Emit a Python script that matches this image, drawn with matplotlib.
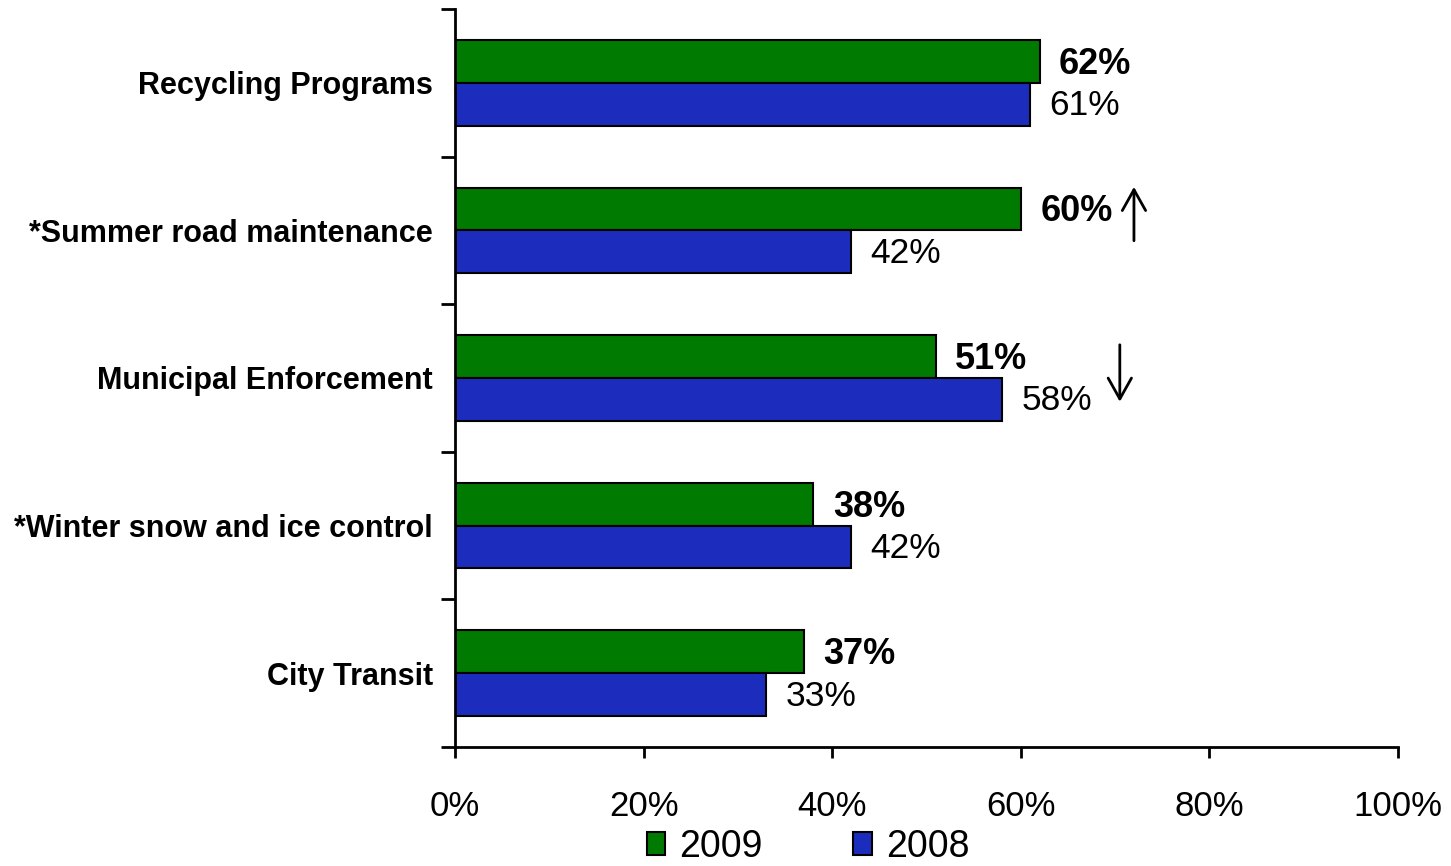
import matplotlib
matplotlib.use("Agg")
import matplotlib.pyplot as plt
import numpy as np

categories = ["Recycling Programs", "*Summer road maintenance", "Municipal Enforcement",
              "*Winter snow and ice control", "City Transit"]
v2009 = [62, 60, 51, 38, 37]
v2008 = [61, 42, 58, 42, 33]
xticks = [0, 20, 40, 60, 80, 100]
xticklabels = ["0%", "20%", "40%", "60%", "80%", "100%"]
series_names = ["2009", "2008"]
arrows = [None, "up", "down", None, None]

plt.rcParams['font.family'] = ['Liberation Sans', 'DejaVu Sans']

fig = plt.figure(figsize=(14.51, 8.66), dpi=100)
ax = fig.add_axes([455/1451, 1-747/866, (1398-455)/1451, (747-9)/866])

green = '#007A00'
blue = '#1C2DBE'
y = np.arange(len(categories))
h = 0.29
b1 = ax.barh(y - h/2, v2009, height=h, color=green, edgecolor='black', linewidth=1.5, label=series_names[0])
b2 = ax.barh(y + h/2, v2008, height=h, color=blue, edgecolor='black', linewidth=1.5, label=series_names[1])

ax.set_xlim(0, 100)
ax.set_ylim(len(categories) - 0.5, -0.5)

for i, v in enumerate(v2009):
    ax.annotate(f"{v}%", (v, y[i] - h/2 + 0.02), xytext=(14, 0), textcoords='offset points',
                va='center', ha='left', fontsize=26, fontweight='bold')
for i, v in enumerate(v2008):
    ax.annotate(f"{v}%", (v, y[i] + h/2 + 0.01), xytext=(14, 0), textcoords='offset points',
                va='center', ha='left', fontsize=25.5)

# trend arrows
astyle = dict(arrowstyle='->,head_length=0.75,head_width=0.42', lw=2, color='black',
              shrinkA=0, shrinkB=0, mutation_scale=20)
for i, a in enumerate(arrows):
    if a == "up":
        ax.annotate("", xy=(72.0, y[i] - 0.295), xytext=(72.0, y[i] + 0.07), arrowprops=astyle)
    elif a == "down":
        ax.annotate("", xy=(70.5, y[i] + 0.161), xytext=(70.5, y[i] - 0.225), arrowprops=astyle)

ax.set_xticks(xticks)
ax.set_xticklabels(xticklabels, fontsize=25)
ax.set_yticks(y)
ax.set_yticklabels(categories, fontsize=22, fontweight='bold')
ax.set_yticks(np.arange(-0.5, len(categories) + 0.5, 1), minor=True)
ax.tick_params(axis='y', which='major', length=0, pad=16)
ax.tick_params(axis='y', which='minor', length=10, width=2, direction='out')
ax.tick_params(axis='x', which='major', length=8, width=2, direction='out', pad=23)

for s in ['top', 'right']:
    ax.spines[s].set_visible(False)
for s in ['left', 'bottom']:
    ax.spines[s].set_linewidth(2)

fig.legend(handles=[b1, b2], labels=series_names, loc='center', bbox_to_anchor=(808/1451, 1-847/866),
           ncol=2, frameon=False, fontsize=27, handlelength=0.5, handleheight=0.55,
           handletextpad=0.38, columnspacing=2.4, borderpad=0)

fig.savefig("out.png", dpi=100)
